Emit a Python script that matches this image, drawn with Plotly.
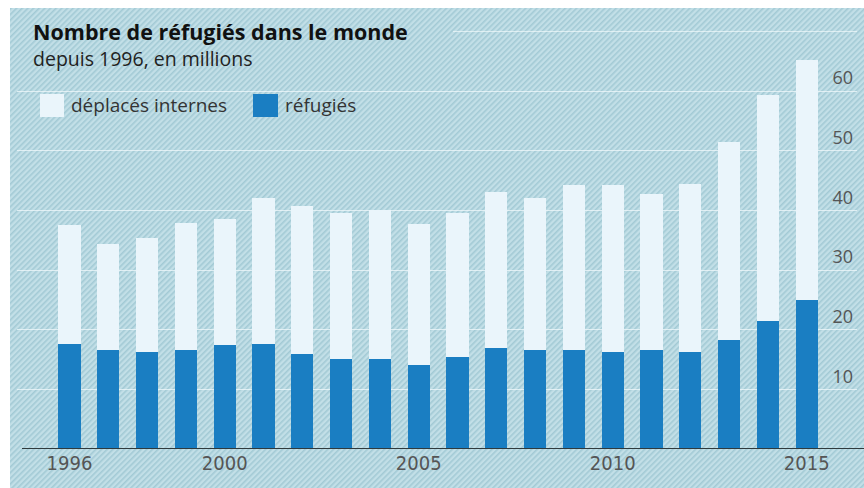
import base64
import plotly.graph_objects as go

# ---- data (millions) ----
years = list(range(1996, 2016))
refugies = [17.6, 16.6, 16.2, 16.6, 17.5, 17.6, 15.9, 15.1, 15.1, 14.0,
            15.5, 16.9, 16.6, 16.6, 16.3, 16.6, 16.3, 18.3, 21.5, 25.0]
deplaces_internes = [20.0, 17.7, 19.2, 21.3, 21.0, 24.5, 24.9, 24.5, 25.0, 23.8,
                     24.1, 26.2, 25.5, 27.6, 28.0, 26.2, 28.2, 33.2, 37.8, 40.2]
x_tickvals = [1996, 2000, 2005, 2010, 2015]
y_tickvals = [10, 20, 30, 40, 50, 60]

BLUE = "#1a7ec2"
PALE = "#eaf5fb"

W, H = 864, 488
ML, MR, MT, MB = 17, 7, 8, 39
PW, PH = W - ML - MR, H - MT - MB

# hatched background panel (decorative)
svg = (
    '<svg xmlns="http://www.w3.org/2000/svg" width="854" height="480">'
    '<defs><pattern id="h" width="4" height="4" patternUnits="userSpaceOnUse" '
    'patternTransform="rotate(45)">'
    '<rect width="4" height="4" fill="#c2dfe7"/>'
    '<rect width="1.6" height="4" fill="#a3cad5"/>'
    '</pattern></defs>'
    '<rect width="854" height="480" fill="url(#h)"/></svg>'
)
svg_uri = "data:image/svg+xml;base64," + base64.b64encode(svg.encode()).decode()

fig = go.Figure()
fig.add_trace(go.Bar(x=years, y=refugies, name="réfugiés",
                     marker=dict(color=BLUE, line=dict(width=0)),
                     width=0.57))
fig.add_trace(go.Bar(x=years, y=deplaces_internes, name="déplacés internes",
                     marker=dict(color=PALE, line=dict(width=0)),
                     width=0.57))

def px_x(px):
    return (px - ML) / PW

def px_y(py):
    return 1 - (py - MT) / PH

fig.add_layout_image(dict(source=svg_uri, xref="paper", yref="paper",
                          x=px_x(10), y=px_y(8), sizex=(W - 10) / PW, sizey=(H - 8) / PH,
                          xanchor="left", yanchor="top", sizing="stretch", layer="below"))

# extra gridline at 70 (starts after title)
fig.add_shape(type="line", xref="paper", yref="y", x0=px_x(453), x1=1, y0=70, y1=70,
              line=dict(color="rgba(240,248,251,0.75)", width=1), layer="below")
# baseline
fig.add_shape(type="line", xref="paper", yref="y", x0=px_x(22), x1=px_x(864), y0=0, y1=0,
              line=dict(color="#2f3a3d", width=2), layer="above")

BODY = "Open Sans, Noto Sans, sans-serif"
NARROW = "Liberation Sans Narrow, DejaVu Sans Condensed, Roboto Condensed, Roboto, sans-serif"

fig.add_annotation(text="<b>Nombre de réfugiés dans le monde</b>", xref="paper", yref="paper",
                   x=px_x(31), y=px_y(31), xanchor="left", yanchor="middle", showarrow=False,
                   font=dict(family=BODY, size=21.5, color="#111111"))
fig.add_annotation(text="depuis 1996, en millions", xref="paper", yref="paper",
                   x=px_x(31), y=px_y(58.5), xanchor="left", yanchor="middle", showarrow=False,
                   font=dict(family=BODY, size=19.5, color="#222222"))

# legend
fig.add_shape(type="rect", xref="paper", yref="paper", x0=px_x(40), x1=px_x(64),
              y0=px_y(117), y1=px_y(94), fillcolor=PALE, line=dict(width=0))
fig.add_annotation(text="déplacés internes", xref="paper", yref="paper",
                   x=px_x(69), y=px_y(105), xanchor="left", yanchor="middle", showarrow=False,
                   font=dict(family=BODY, size=19, color="#333333"))
fig.add_shape(type="rect", xref="paper", yref="paper", x0=px_x(253), x1=px_x(278),
              y0=px_y(117), y1=px_y(94), fillcolor=BLUE, line=dict(width=0))
fig.add_annotation(text="réfugiés", xref="paper", yref="paper",
                   x=px_x(283), y=px_y(105), xanchor="left", yanchor="middle", showarrow=False,
                   font=dict(family=BODY, size=19, color="#333333"))

x0 = 1996 - 52.5 / 38.8
fig.update_layout(
    width=W, height=H,
    margin=dict(l=ML, r=MR, t=MT, b=MB),
    paper_bgcolor="white",
    plot_bgcolor="rgba(0,0,0,0)",
    barmode="stack",
    showlegend=False,
    xaxis=dict(range=[x0, x0 + PW / 38.8], tickvals=x_tickvals,
               ticktext=[str(v) for v in x_tickvals], showgrid=False, zeroline=False,
               showline=False, ticks="", tickfont=dict(family=NARROW, size=20, color="#555555")),
    yaxis=dict(range=[0, PH / 5.965], tickvals=y_tickvals, side="right",
               ticklabelposition="inside", ticklabelshift=-13, ticklabelstandoff=1,
               showgrid=True, gridcolor="rgba(240,248,251,0.75)", gridwidth=1,
               zeroline=False, showline=False, ticks="",
               tickfont=dict(family=BODY, size=18, color="#555555")),
)

fig.write_html("out.html", config={"displayModeBar": False},
               post_script="document.body.style.margin='0';document.body.style.overflow='hidden';")
